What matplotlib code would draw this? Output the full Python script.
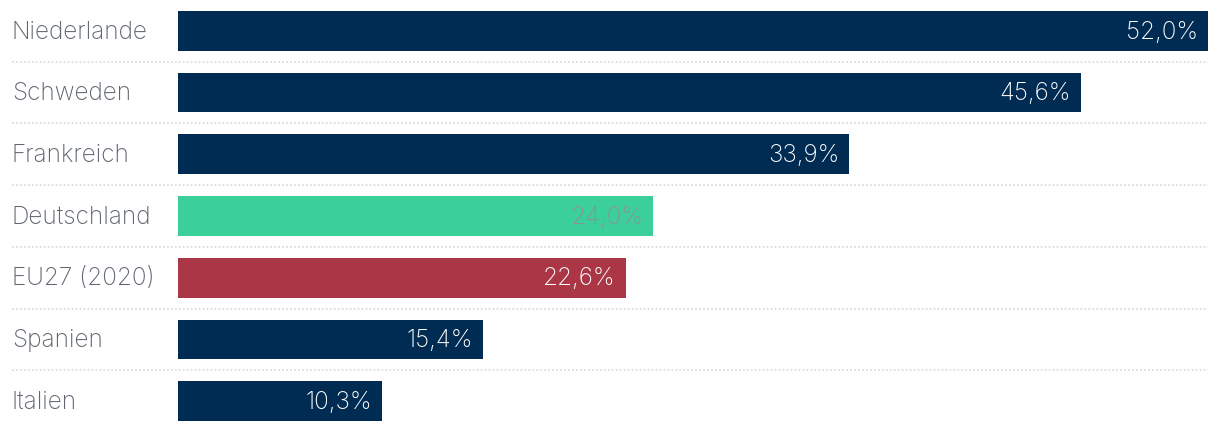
import matplotlib
matplotlib.use('Agg')
import matplotlib.pyplot as plt

# 数据
laender = ["Niederlande", "Schweden", "Frankreich", "Deutschland", "EU27 (2020)", "Spanien", "Italien"]
werte = [52.0, 45.6, 33.9, 24.0, 22.6, 15.4, 10.3]
farben = ["#002B52", "#002B52", "#002B52", "#3BD09A", "#AA3646", "#002B52", "#002B52"]
textfarben = ["white", "white", "white", "#8C929A", "white", "white", "white"]

plt.rcParams['font.family'] = ['Inter', 'DejaVu Sans']

fig = plt.figure(figsize=(12.2, 4.32), dpi=100)
ax = fig.add_axes([178 / 1220, 0, 1030 / 1220, 1])
ax.set_xlim(0, 52)
ax.set_ylim(6.5, -0.5)
ax.axis('off')

y = list(range(len(laender)))
ax.barh(y, werte, height=0.645, color=farben)

for i, (name, w) in enumerate(zip(laender, werte)):
    ax.text(-166 / 1030 * 52, i + 0.02, name, ha='left', va='center', fontsize=17.5,
            color='#5F6670', fontweight='light', clip_on=False)
    ax.text(w - 0.5, i + 0.02, f"{w:.1f}%".replace('.', ','), ha='right', va='center',
            fontsize=17.5, color=textfarben[i], fontweight='light')

# 分隔虚线
for i in range(len(laender) - 1):
    ax.plot([-166 / 1030 * 52, 52], [i + 0.5, i + 0.5], color='#DADDE0',
            linestyle=(0, (1, 1.2)), linewidth=1.3, clip_on=False)

fig.savefig("out.png", dpi=100)
